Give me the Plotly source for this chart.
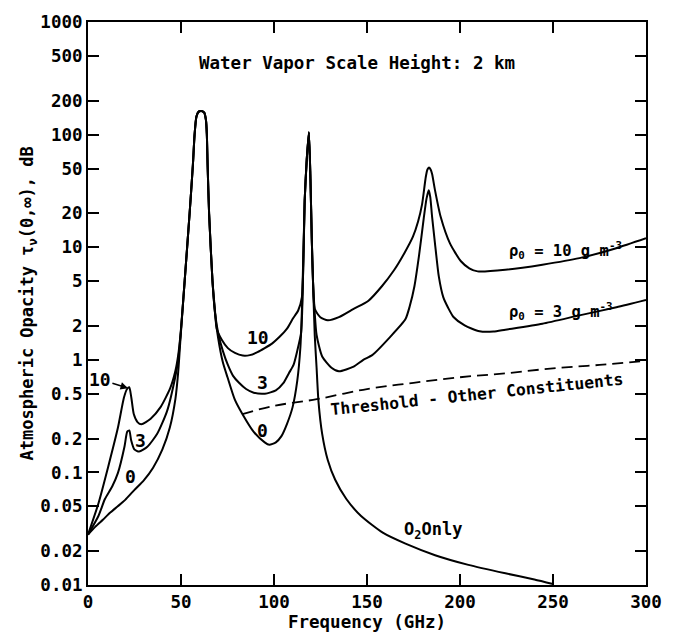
import math
import plotly.graph_objects as go

# ---------------- data ----------------
# O2 only (rho0 = 0)
f_0 = [0, 4, 8, 12, 16, 20, 25, 30, 35, 40, 44, 47, 48.5, 49.9, 52, 54.6, 56.4, 57.3,
       58.3, 59.5, 61, 62.5, 63.4, 63.9, 64.3, 65.1, 66.9, 68.3, 70, 72.5, 75, 79, 83,
       89, 95, 97.5, 101, 104, 107, 110, 112.5, 114.2, 115.2, 116.5, 117.6, 118.75,
       119.6, 120.3, 121, 121.9, 122.9, 123.9, 125.9, 128.9, 132.9, 138.9, 146.8,
       158.7, 170.7, 186.6, 204.5, 224.4, 240, 250]
v_0 = [0.028, 0.033, 0.038, 0.044, 0.050, 0.057, 0.070, 0.085, 0.11, 0.16, 0.25, 0.45,
       0.78, 1.7, 5.1, 19.7, 54, 100, 145, 160, 162, 157, 135, 100, 54, 20, 5.1, 2.6,
       1.55, 0.95, 0.7, 0.44, 0.33, 0.23, 0.185, 0.176, 0.185, 0.21, 0.27, 0.38, 0.65,
       1.3, 3.5, 26, 60, 105, 40, 12, 4.8, 1.66, 0.85, 0.43, 0.22, 0.129, 0.086, 0.058,
       0.041, 0.029, 0.0233, 0.0184, 0.0151, 0.0127, 0.0112, 0.0102]

# rho0 = 3 g m^-3
f_3 = [0, 5.6, 9.1, 13, 16.1, 19.6, 21.1, 22.2, 23.2, 24.9, 27.5, 31.9, 37.2, 42.5, 46.8,
       48.5, 49.9, 52, 54.6, 56.4, 57.3, 58.3, 59.5, 61, 62.5, 63.4, 63.9, 64.3, 65.1,
       66.9, 68.3, 70.2, 72.5, 75.2, 78, 81.2, 85, 89.1, 95.1, 101, 105, 108, 110.5,
       112.5, 114.6, 115.4, 116.5, 117.6, 118.75, 119.6, 120.3, 121, 121.9, 122.9,
       125.9, 130.9, 134.9, 142.8, 148, 152.8, 162.5, 170.7, 173, 175.5, 178, 180.5,
       182, 183.2, 184, 185, 186.5, 188.6, 191, 193.6, 196.5, 202.5, 210.5, 218, 224.4,
       244.3, 264.2, 284.1, 300]
v_3 = [0.028, 0.041, 0.058, 0.075, 0.099, 0.169, 0.23, 0.236, 0.193, 0.16, 0.153, 0.169,
       0.22, 0.35, 0.69, 1.0, 1.75, 5.1, 19.7, 54, 100, 145, 160, 162, 157, 135, 100, 54,
       20, 5.1, 2.6, 1.66, 1.2, 0.9, 0.72, 0.625, 0.55, 0.51, 0.50, 0.535, 0.62, 0.76,
       0.9, 1.2, 1.75, 3.8, 26, 60, 105, 40, 12, 4.8, 2.6, 1.66, 1.07, 0.85, 0.79, 0.87,
       1.0, 1.1, 1.6, 2.3, 3.0, 4.5, 8.5, 18, 27, 32, 28, 18.6, 11, 5.5, 3.6, 2.9, 2.4,
       2.02, 1.79, 1.78, 1.85, 2.09, 2.48, 2.93, 3.4]

# rho0 = 10 g m^-3
f_10 = [0, 5.6, 10.9, 16.1, 19.3, 21, 22.2, 23.3, 24.6, 26.6, 28.7, 33.7, 39, 44.2, 47,
        48.5, 49.9, 52, 54.6, 56.4, 57.3, 58.3, 59.5, 61, 62.5, 63.4, 63.9, 64.3, 65.1,
        66.9, 68.3, 69.2, 72, 75.2, 79, 83.2, 87, 91.1, 95, 99.1, 103, 107, 110, 113,
        115, 116.5, 117.6, 118.75, 119.6, 120.3, 121, 121.9, 124.9, 128.9, 134.9, 142.8,
        150.8, 158, 164.7, 170, 174.7, 177.5, 179.6, 181.6, 182.5, 183.3, 184.2, 185,
        186.6, 189.6, 194.6, 200.5, 205, 209.5, 224.4, 244.3, 264.2, 284, 300]
v_10 = [0.028, 0.053, 0.113, 0.25, 0.46, 0.55, 0.57, 0.46, 0.33, 0.28, 0.267, 0.30, 0.38,
        0.56, 0.8, 1.1, 1.8, 5.1, 19.7, 54, 100, 145, 160, 162, 157, 135, 100, 54, 20,
        5.1, 2.7, 1.89, 1.5, 1.27, 1.15, 1.09, 1.1, 1.17, 1.27, 1.40, 1.6, 1.89, 2.3,
        2.74, 3.6, 26, 60, 105, 40, 12, 4.8, 2.83, 2.39, 2.24, 2.39, 2.83, 3.35, 4.5,
        6.3, 8.8, 12.4, 17, 24, 42, 49, 51, 49, 44.6, 31.8, 18.6, 10.8, 7.5, 6.5, 6.1,
        6.3, 7.0, 8.0, 9.8, 12]

# threshold - other constituents (dashed)
f_thr = [83, 100, 123, 150, 175, 200, 225, 250, 275, 300]
v_thr = [0.33, 0.39, 0.447, 0.55, 0.625, 0.70, 0.76, 0.84, 0.90, 0.98]

x_ticks = [0, 50, 100, 150, 200, 250, 300]
y_ticks = [0.01, 0.02, 0.05, 0.1, 0.2, 0.5, 1, 2, 5, 10, 20, 50, 100, 200, 500, 1000]
y_ticktext = ["0.01", "0.02", "0.05", "0.1", "0.2", "0.5", "1", "2", "5", "10", "20",
              "50", "100", "200", "500", "1000"]

FONT = "DejaVu Sans Mono"
BLACK = "#000000"
L = math.log10

fig = go.Figure()
line_style = dict(color=BLACK, width=2, shape="spline", smoothing=0.6)
for fx, vy, name in [(f_0, v_0, "0"), (f_3, v_3, "3"), (f_10, v_10, "10")]:
    fig.add_trace(go.Scatter(x=fx, y=vy, mode="lines", line=line_style, name=name,
                             showlegend=False, hoverinfo="skip"))
fig.add_trace(go.Scatter(x=f_thr, y=v_thr, mode="lines",
                         line=dict(color=BLACK, width=1.8, dash="11px,6px", shape="spline"),
                         showlegend=False, hoverinfo="skip"))


def fnt(size):
    return dict(family=FONT, size=size, color=BLACK, weight="bold")


def txt(x, y, s, size=17, **kw):
    fig.add_annotation(x=x, y=y, text=s, showarrow=False, yref="y", xref="x",
                       font=fnt(size), **kw)


txt(58.8, L(431), "Water Vapor Scale Height: 2 km", size=17.5, xanchor="left")
txt(91.3, L(1.57), "10", size=18)
txt(94, L(0.63), "3", size=18)
txt(94, L(0.238), "0", size=18)
txt(28.1, L(0.193), "3", size=18)
txt(22.8, L(0.092), "0", size=18)
fig.add_annotation(x=21.5, y=L(0.56), ax=6.4, ay=L(0.67), axref="x", ayref="y",
                   xref="x", yref="y", text="10", showarrow=True, arrowhead=2,
                   arrowsize=1, arrowwidth=1.5, arrowcolor=BLACK, standoff=0,
                   font=fnt(18))
txt(225, L(9.4), "ρ<sub>0</sub> = 10 g m<sup>-3</sup>", size=15.5, xanchor="left")
txt(225, L(2.66), "ρ<sub>0</sub> = 3 g m<sup>-3</sup>", size=15.5, xanchor="left")
txt(209, L(0.49), "Threshold - Other Constituents", size=16.3, textangle=-6)
txt(185.4, L(0.0304), "O<sub>2</sub>Only", size=17)

fig.add_annotation(x=-0.13, y=0.5, xref="paper", yref="paper", showarrow=False,
                   text="Atmospheric Opacity τ<sub>ν</sub>(0,∞), dB", textangle=-90,
                   font=fnt(17))

axis_common = dict(showline=True, linecolor=BLACK, linewidth=2, mirror="ticks",
                   ticks="inside", ticklen=11, tickwidth=1.5, tickcolor=BLACK,
                   showgrid=False, zeroline=False, tickfont=fnt(17.5),
                   ticklabeloverflow="allow")

fig.update_xaxes(range=[0, 300], tickvals=x_ticks,
                 title=dict(text="Frequency (GHz)", standoff=4, font=fnt(17.5)),
                 **axis_common)
fig.update_yaxes(type="log", range=[-2, 3], tickvals=y_ticks, ticktext=y_ticktext,
                 **axis_common)

fig.update_layout(width=674, height=644, margin=dict(l=88, r=16, t=16, b=59),
                  paper_bgcolor="white", plot_bgcolor="white")

fig.write_html("out.html")
